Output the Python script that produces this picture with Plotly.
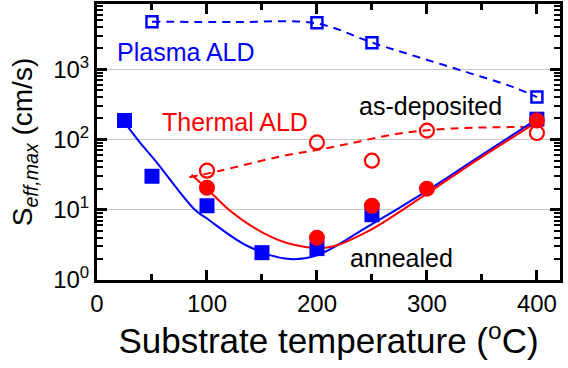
import plotly.graph_objects as go

# ---- data ----
plasma_asdep_x = [50, 200, 250, 400]
plasma_asdep_y = [4740, 4600, 2380, 402]
plasma_ann_x = [25, 50, 100, 150, 200, 250, 400]
plasma_ann_y = [187, 30, 11.4, 2.45, 2.8, 8.5, 195]
thermal_asdep_x = [100, 200, 250, 300, 400]
thermal_asdep_y = [36, 91, 50, 134, 124]
thermal_ann_x = [100, 200, 250, 300, 400]
thermal_ann_y = [20.6, 4.0, 11.4, 20, 186]

# guide curves
plasma_asdep_fit_x = [50, 125, 200, 250, 291, 336, 378, 400]
plasma_asdep_fit_y = [4740, 4700, 4500, 2400, 1510, 912, 562, 402]
plasma_ann_fit_x = [25, 38, 53, 89, 100, 136, 173, 200, 245, 300, 342, 400]
plasma_ann_fit_y = [175, 95, 50, 10, 7.5, 3.1, 2.0, 2.25, 5.6, 18.6, 50, 195]
thermal_asdep_fit_x = [84, 112, 166, 210, 230, 272, 321, 394]
thermal_asdep_fit_y = [29, 36, 57, 76, 88, 120, 143, 151]
thermal_ann_fit_x = [86, 100, 121, 151, 178, 209, 245, 300, 342, 400]
thermal_ann_fit_y = [31.6, 20, 9.7, 4.7, 3.2, 2.9, 4.8, 17, 47, 177]

x_ticks = [0, 100, 200, 300, 400]
y_tickvals = [1, 10, 100, 1000]
y_ticktext = ["10<sup>0</sup>", "10<sup>1</sup>", "10<sup>2</sup>", "10<sup>3</sup>"]

BLUE = "#0000ff"
RED = "#ff0000"
FONT = "Liberation Sans, Arial, sans-serif"

fig = go.Figure()

fig.add_trace(go.Scatter(x=plasma_asdep_fit_x, y=plasma_asdep_fit_y, mode="lines",
                         line=dict(color=BLUE, width=2, dash="8px,6px", shape="spline"),
                         showlegend=False, hoverinfo="skip"))
fig.add_trace(go.Scatter(x=thermal_asdep_fit_x, y=thermal_asdep_fit_y, mode="lines",
                         line=dict(color=RED, width=2, dash="8px,6px", shape="spline"),
                         showlegend=False, hoverinfo="skip"))
fig.add_trace(go.Scatter(x=plasma_ann_fit_x, y=plasma_ann_fit_y, mode="lines",
                         line=dict(color=BLUE, width=2, shape="spline"),
                         showlegend=False, hoverinfo="skip"))
fig.add_trace(go.Scatter(x=thermal_ann_fit_x, y=thermal_ann_fit_y, mode="lines",
                         line=dict(color=RED, width=2, shape="spline"),
                         showlegend=False, hoverinfo="skip"))

fig.add_trace(go.Scatter(x=plasma_asdep_x, y=plasma_asdep_y, mode="markers",
                         marker=dict(symbol="square-open", size=11, color=BLUE,
                                     line=dict(width=2.5, color=BLUE)),
                         showlegend=False))
fig.add_trace(go.Scatter(x=plasma_ann_x, y=plasma_ann_y, mode="markers",
                         marker=dict(symbol="square", size=15, color=BLUE,
                                     line=dict(width=0)),
                         showlegend=False))
fig.add_trace(go.Scatter(x=thermal_asdep_x, y=thermal_asdep_y, mode="markers",
                         marker=dict(symbol="circle-open", size=14, color=RED,
                                     line=dict(width=2.2, color=RED)),
                         showlegend=False))
fig.add_trace(go.Scatter(x=thermal_ann_x, y=thermal_ann_y, mode="markers",
                         marker=dict(symbol="circle", size=16, color=RED,
                                     line=dict(width=0)),
                         showlegend=False))

ann_font = dict(family=FONT, size=25)
common = dict(xref="paper", yref="paper", showarrow=False,
              xanchor="center", yanchor="middle")
fig.add_annotation(text="Plasma ALD", x=0.192, y=0.826, font=dict(ann_font, color=BLUE), **common)
fig.add_annotation(text="Thermal ALD", x=0.298, y=0.572, font=dict(ann_font, color=RED), **common)
fig.add_annotation(text="as-deposited", x=0.721, y=0.630, font=dict(ann_font, color="black"), **common)
fig.add_annotation(text="annealed", x=0.657, y=0.080, font=dict(ann_font, color="black"), **common)

fig.update_layout(
    width=568, height=368,
    margin=dict(l=97, r=8, t=4, b=88, autoexpand=False),
    paper_bgcolor="white", plot_bgcolor="white",
    font=dict(family=FONT, color="black"),
    xaxis=dict(
        range=[0, 421], tickmode="array", tickvals=x_ticks, automargin=False,
        ticks="inside", ticklen=10, tickwidth=2.5, tickcolor="black",
        showline=True, linewidth=3, linecolor="black", mirror="ticks",
        showgrid=False, zeroline=False,
        tickfont=dict(family=FONT, size=24),
        minor=dict(tickmode="linear", tick0=0, dtick=50, ticks="inside",
                   ticklen=6, tickwidth=2.5, tickcolor="black", showgrid=False),
        title=dict(text="Substrate temperature (<sup>o</sup>C)",
                   font=dict(family=FONT, size=35), standoff=4),
    ),
    yaxis=dict(
        type="log", range=[0, 3.93], tickmode="array", automargin=False,
        tickvals=y_tickvals, ticktext=y_ticktext,
        ticks="inside", ticklen=10, tickwidth=2.5, tickcolor="black",
        showline=True, linewidth=3, linecolor="black", mirror="ticks",
        showgrid=True, gridcolor="#c8c8c8", gridwidth=1, zeroline=False,
        tickfont=dict(family=FONT, size=24),
        minor=dict(dtick="D1", ticks="inside", ticklen=6, tickwidth=2,
                   tickcolor="black", showgrid=False),
        title=dict(text="S<sub><i>eff,max</i></sub> (cm/s)",
                   font=dict(family=FONT, size=28), standoff=13),
    ),
)

fig.write_html("out.html", config={"displayModeBar": False},
               post_script="document.body.style.margin='0';document.body.style.overflow='hidden';")
